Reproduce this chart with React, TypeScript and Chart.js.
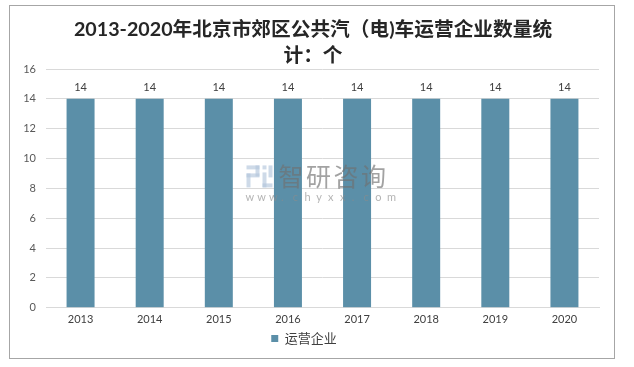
import React, { useEffect, useRef } from "react";
import { Chart, registerables } from "chart.js";

Chart.register(...registerables);

const categories = ["2013", "2014", "2015", "2016", "2017", "2018", "2019", "2020"];
const seriesName = "运营企业";
const values = [14, 14, 14, 14, 14, 14, 14, 14];
const titleLines = ["2013-2020年北京市郊区公共汽（电)车运营企业数量统", "计：个"];
const yMax = 16;
const yStep = 2;

const BAR_COLOR = "#5B8FA8";
const FONT = "Lato, 'Noto Sans CJK SC', sans-serif";

const borderPlugin = {
  id: "outerBorder",
  beforeDraw(chart: any) {
    const ctx = chart.ctx;
    ctx.save();
    ctx.fillStyle = "#ffffff";
    ctx.fillRect(0, 0, chart.width, chart.height);
    ctx.strokeStyle = "#a6a6a6";
    ctx.lineWidth = 1;
    ctx.strokeRect(9.5, 5.5, 605, 353);
    ctx.restore();
  },
};

const titlePlugin = {
  id: "centeredTitle",
  afterDraw(chart: any) {
    const ctx = chart.ctx;
    ctx.save();
    ctx.font = `bold 19.7px ${FONT}`;
    ctx.fillStyle = "#262626";
    ctx.textAlign = "center";
    ctx.textBaseline = "middle";
    titleLines.forEach((line, i) => {
      ctx.fillText(line, 313, 29.5 + i * 26);
    });
    ctx.restore();
  },
};

const labelPlugin = {
  id: "valueLabels",
  afterDatasetsDraw(chart: any) {
    const ctx = chart.ctx;
    const meta = chart.getDatasetMeta(0);
    ctx.save();
    ctx.font = `11px ${FONT}`;
    ctx.fillStyle = "#404040";
    ctx.textAlign = "center";
    ctx.textBaseline = "bottom";
    meta.data.forEach((bar: any, i: number) => {
      ctx.fillText(String(values[i]), bar.x, bar.y - 6);
    });
    ctx.restore();
  },
};

const watermarkPlugin = {
  id: "watermark",
  afterDatasetsDraw(chart: any) {
    const ctx = chart.ctx;
    const a = chart.chartArea;
    const cx = (a.left + a.right) / 2;
    const cy = (a.top + a.bottom) / 2;
    ctx.save();
    ctx.globalAlpha = 0.65;
    ctx.fillStyle = "#b4c6dc";
    const ix = cx - 76;
    const iy = cy - 23;
    ctx.fillRect(ix, iy, 13, 4);
    ctx.fillRect(ix + 9, iy, 4, 11);
    ctx.fillRect(ix, iy + 8, 13, 4);
    ctx.fillRect(ix, iy + 8, 4, 14);
    ctx.fillRect(ix + 16, iy, 4, 4);
    ctx.fillRect(ix + 16, iy + 7, 4, 15);
    ctx.fillRect(ix + 16, iy + 18, 10, 4);
    ctx.fillRect(ix + 22, iy, 4, 12);
    ctx.fillStyle = "#707070";
    ctx.font = `25px 'Noto Sans CJK SC', sans-serif`;
    ctx.textAlign = "left";
    ctx.textBaseline = "middle";
    const t = "智研咨询";
    let tx = cx - 44;
    for (const ch of t) {
      ctx.fillText(ch, tx, cy - 12);
      tx += 27.5;
    }
    ctx.font = `11px ${FONT}`;
    ctx.fillStyle = "#8c8c8c";
    const s = "www.chyxx.com";
    let x = cx - 77;
    for (const ch of s) {
      ctx.fillText(ch, x, cy + 9);
      x += 11.8;
    }
    ctx.restore();
  },
};

export default function App() {
  const ref = useRef<HTMLCanvasElement | null>(null);
  useEffect(() => {
    if (!ref.current) return;
    const chart = new Chart(ref.current, {
      type: "bar",
      data: {
        labels: categories,
        datasets: [
          {
            label: seriesName,
            data: values,
            backgroundColor: BAR_COLOR,
            barPercentage: 0.405,
            categoryPercentage: 1,
          },
        ],
      },
      options: {
        animation: false,
        responsive: false,
        maintainAspectRatio: false,
        layout: { padding: { top: 0, left: 9, right: 35, bottom: 12 } },
        plugins: {
          title: {
            display: true,
            text: titleLines,
            color: "rgba(0,0,0,0)",
            font: { family: FONT, size: 19.7, weight: "bold", lineHeight: 1.32 },
            padding: { top: 16, bottom: 1 },
          },
          legend: {
            display: true,
            position: "bottom",
            labels: {
              boxWidth: 7,
              boxHeight: 7,
              color: "#404040",
              font: { family: FONT, size: 13 },
              padding: 1,
            },
          },
          tooltip: { enabled: false },
        },
        scales: {
          x: {
            grid: { display: false, drawTicks: false },
            border: { color: "#d9d9d9" },
            ticks: { color: "#404040", font: { family: FONT, size: 11 }, padding: 5 },
          },
          y: {
            min: 0,
            max: yMax,
            ticks: { stepSize: yStep, color: "#595959", font: { family: FONT, size: 11 }, padding: 10 },
            grid: { color: "#d9d9d9", drawTicks: false },
            border: { display: false },
            afterFit: (s: any) => {
              s.width = 37;
            },
          },
        },
      },
      plugins: [borderPlugin, labelPlugin, watermarkPlugin, titlePlugin],
    });
    return () => chart.destroy();
  }, []);
  return (
    <div style={{ position: "fixed", left: 0, top: 0, width: 634, height: 367 }}>
      <canvas ref={ref} width={634} height={367} />
    </div>
  );
}
